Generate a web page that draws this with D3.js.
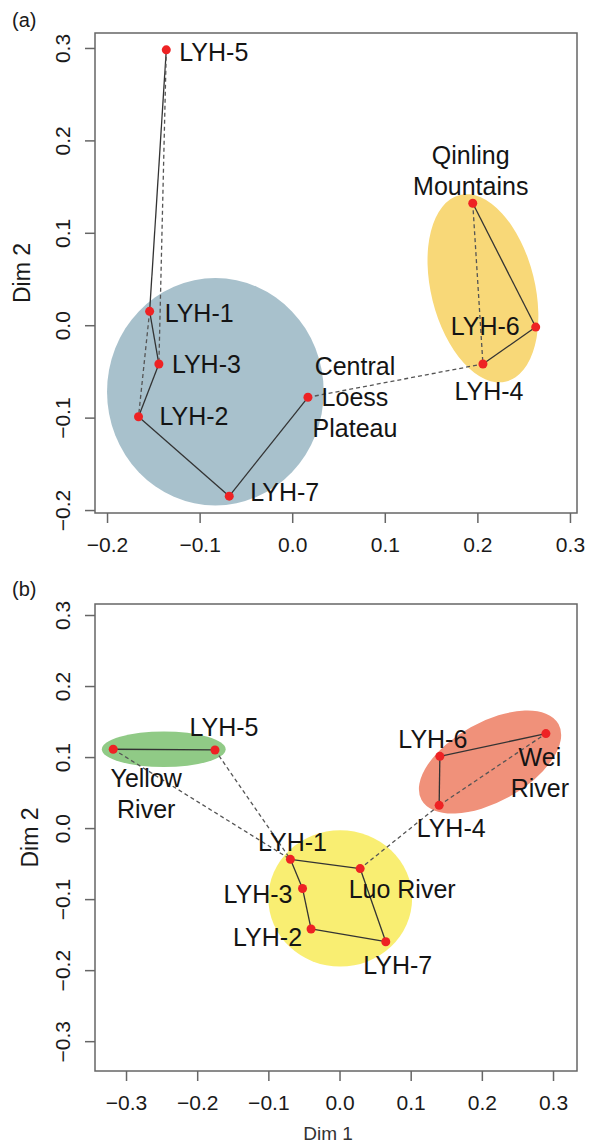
<!DOCTYPE html>
<html>
<head>
<meta charset="utf-8">
<script src="https://cdn.jsdelivr.net/npm/d3@7"></script>
<style>
  body { margin: 0; background: #fff; }
  svg { font-family: "Liberation Sans", Arial, sans-serif; }
</style>
</head>
<body>
<script>
// ---- panel (a) data ----
var namesA = ["LYH-1", "LYH-2", "LYH-3", "LYH-4", "LYH-5", "LYH-6", "LYH-7", "Central Loess Plateau", "Qinling Mountains"];
var dim1A = [-0.154, -0.166, -0.144, 0.206, -0.136, 0.263, -0.068, 0.017, 0.195];
var dim2A = [0.015, -0.099, -0.042, -0.042, 0.298, -0.002, -0.185, -0.078, 0.132];
var solidA = [["LYH-5", "LYH-1"], ["LYH-1", "LYH-3"], ["LYH-3", "LYH-2"], ["LYH-2", "LYH-7"], ["LYH-7", "Central Loess Plateau"],
              ["Qinling Mountains", "LYH-6"], ["LYH-6", "LYH-4"]];
var dashedA = [["LYH-5", "LYH-3"], ["LYH-1", "LYH-2"], ["Central Loess Plateau", "LYH-4"], ["Qinling Mountains", "LYH-4"]];
// group ellipses: centre, radii in Dim units, tilt in degrees
var groupsA = [
  { cx: -0.083, cy: -0.072, rx: 0.117, ry: 0.123, tilt: 0 },
  { cx: 0.206, cy: 0.040, rx: 0.056, ry: 0.104, tilt: -14 }
];
var ticksXA = [-0.2, -0.1, 0.0, 0.1, 0.2, 0.3];
var ticksYA = [-0.2, -0.1, 0.0, 0.1, 0.2, 0.3];

// ---- panel (b) data ----
var namesB = ["LYH-1", "LYH-2", "LYH-3", "LYH-4", "LYH-5", "LYH-6", "LYH-7", "Yellow River", "Wei River", "Luo River"];
var dim1B = [-0.069, -0.040, -0.052, 0.140, -0.175, 0.141, 0.065, -0.318, 0.290, 0.029];
var dim2B = [-0.044, -0.142, -0.085, 0.032, 0.110, 0.101, -0.160, 0.111, 0.133, -0.057];
var solidB = [["Yellow River", "LYH-5"], ["LYH-6", "Wei River"], ["LYH-6", "LYH-4"], ["LYH-1", "Luo River"], ["LYH-1", "LYH-3"],
              ["LYH-3", "LYH-2"], ["LYH-2", "LYH-7"], ["Luo River", "LYH-7"]];
var dashedB = [["Yellow River", "LYH-1"], ["LYH-5", "LYH-1"], ["LYH-4", "Luo River"], ["LYH-4", "Wei River"]];
var groupsB = [
  { cx: -0.247, cy: 0.111, rx: 0.087, ry: 0.025, tilt: 0 },
  { cx: 0.2115, cy: 0.093, rx: 0.110, ry: 0.056, tilt: -29 },
  { cx: 0.001, cy: -0.099, rx: 0.101, ry: 0.096, tilt: 0 }
];
var ticksXB = [-0.3, -0.2, -0.1, 0.0, 0.1, 0.2, 0.3];
var ticksYB = [-0.3, -0.2, -0.1, 0.0, 0.1, 0.2, 0.3];

// ---- styling / label placement (pixels, relative to point) ----
var groupColA = ["#a8c1cc", "#f8d878"];
var groupColB = ["#90ca86", "#f0917a", "#f9ee72"];
var labelsA = {
  "LYH-5": ["start", 13, 2], "LYH-1": ["start", 15, 2], "LYH-3": ["start", 13, 0], "LYH-2": ["start", 21, 0],
  "LYH-7": ["start", 21, -4], "Central Loess Plateau": ["middle", 47, -31, ["Central", "Loess", "Plateau"]],
  "Qinling Mountains": ["middle", -2, -48, ["Qinling", "Mountains"]], "LYH-6": ["end", -16, -1], "LYH-4": ["middle", 6, 27]
};
var labelsB = {
  "LYH-5": ["middle", 9, -23], "Yellow River": ["middle", 33, 29, ["Yellow", "River"]], "LYH-6": ["middle", -7, -17],
  "Wei River": ["middle", -6, 24, ["Wei", "River"]], "LYH-4": ["middle", 12, 23], "LYH-1": ["middle", 2, -17],
  "LYH-3": ["end", -10, 6], "LYH-2": ["end", -9, 8], "LYH-7": ["middle", 12, 24], "Luo River": ["middle", 42, 21]
};

var svg = d3.select("body").append("svg").attr("width", 590).attr("height", 1144);

function drawPanel(p) {
  var x = d3.scaleLinear().domain(p.xdom).range([p.box.left, p.box.right]);
  var y = d3.scaleLinear().domain(p.ydom).range([p.box.bottom, p.box.top]);
  var g = svg.append("g");
  var pos = {};
  p.names.forEach(function(n, i) { pos[n] = [x(p.d1[i]), y(p.d2[i])]; });

  // ellipses
  g.selectAll(".grp").data(p.groups).enter().append("ellipse")
    .attr("cx", function(d) { return x(d.cx); })
    .attr("cy", function(d) { return y(d.cy); })
    .attr("rx", function(d) { return x(d.cx + d.rx) - x(d.cx); })
    .attr("ry", function(d) { return y(d.cy) - y(d.cy + d.ry); })
    .attr("transform", function(d) { return "rotate(" + d.tilt + "," + x(d.cx) + "," + y(d.cy) + ")"; })
    .attr("fill", function(d, i) { return p.cols[i]; });

  // links
  g.selectAll(".solid").data(p.solid).enter().append("line")
    .attr("x1", function(d) { return pos[d[0]][0]; }).attr("y1", function(d) { return pos[d[0]][1]; })
    .attr("x2", function(d) { return pos[d[1]][0]; }).attr("y2", function(d) { return pos[d[1]][1]; })
    .attr("stroke", "#333").attr("stroke-width", 1.3);
  g.selectAll(".dashed").data(p.dashed).enter().append("line")
    .attr("x1", function(d) { return pos[d[0]][0]; }).attr("y1", function(d) { return pos[d[0]][1]; })
    .attr("x2", function(d) { return pos[d[1]][0]; }).attr("y2", function(d) { return pos[d[1]][1]; })
    .attr("stroke", "#555").attr("stroke-width", 1.3).attr("stroke-dasharray", "4,3");

  // points
  g.selectAll(".pt").data(p.names).enter().append("circle")
    .attr("cx", function(d) { return pos[d][0]; }).attr("cy", function(d) { return pos[d][1]; })
    .attr("r", 4.5).attr("fill", "#ee2224");

  // labels
  p.names.forEach(function(n) {
    var L = p.labels[n];
    var lines = L[3] || [n];
    var t = g.append("text").attr("text-anchor", L[0]).attr("font-size", 25).attr("fill", "#141414");
    lines.forEach(function(s, k) {
      t.append("tspan").attr("x", pos[n][0] + L[1]).attr("y", pos[n][1] + L[2] + k * 31)
        .attr("dy", "0.35em").text(s);
    });
  });

  // box
  g.append("rect").attr("x", p.box.left).attr("y", p.box.top)
    .attr("width", p.box.right - p.box.left).attr("height", p.box.bottom - p.box.top)
    .attr("fill", "none").attr("stroke", "#666").attr("stroke-width", 1.5);

  // axes
  var ax = g.append("g").attr("transform", "translate(0," + p.box.bottom + ")")
    .call(d3.axisBottom(x).tickValues(p.tx).tickFormat(d3.format(".1f")).tickSize(10).tickSizeOuter(0));
  var ay = g.append("g").attr("transform", "translate(" + p.box.left + ",0)")
    .call(d3.axisLeft(y).tickValues(p.ty).tickFormat(d3.format(".1f")).tickSize(10).tickSizeOuter(0));
  [ax, ay].forEach(function(a) {
    a.select(".domain").remove();
    a.selectAll(".tick line").attr("stroke", "#666").attr("stroke-width", 1.5);
    a.selectAll(".tick text").attr("font-size", 21).attr("fill", "#1a1a1a")
      .attr("font-family", "Liberation Sans, Arial, sans-serif");
  });
  ax.selectAll(".tick text").attr("y", 32).attr("dy", "0.35em");
  ay.selectAll(".tick text").attr("x", null).attr("dy", null)
    .attr("text-anchor", "middle").attr("transform", "translate(-32,0) rotate(-90)").attr("dy", "0.35em");

  // titles
  g.append("text").attr("x", 12).attr("y", p.tag[1]).attr("dy", "0.35em").attr("font-size", 20)
    .attr("fill", "#1a1a1a").text(p.tag[0]);
  g.append("text").attr("text-anchor", "middle").attr("font-size", 23).attr("fill", "#1a1a1a")
    .attr("transform", "translate(" + p.ylabX + "," + (p.box.top + p.box.bottom) / 2 + ") rotate(-90)")
    .attr("dy", "0.35em").text("Dim 2");
  if (p.xlab) {
    g.append("text").attr("text-anchor", "middle").attr("font-size", 19).attr("fill", "#333")
      .attr("x", (p.box.left + p.box.right) / 2 - 8).attr("y", 1133).attr("dy", "0.35em").text("Dim 1");
  }
}

drawPanel({
  names: namesA, d1: dim1A, d2: dim2A, solid: solidA, dashed: dashedA, groups: groupsA, cols: groupColA,
  labels: labelsA, tx: ticksXA, ty: ticksYA,
  box: { left: 95, right: 577, top: 33, bottom: 513 },
  xdom: [-0.2130, 0.3076], ydom: [-0.2032, 0.3162], tag: ["(a)", 20], ylabX: 22, xlab: false
});
drawPanel({
  names: namesB, d1: dim1B, d2: dim2B, solid: solidB, dashed: dashedB, groups: groupsB, cols: groupColB,
  labels: labelsB, tx: ticksXB, ty: ticksYB,
  box: { left: 95, right: 577, top: 604, bottom: 1071 },
  xdom: [-0.3436, 0.3337], ydom: [-0.342, 0.3155], tag: ["(b)", 589], ylabX: 30, xlab: true
});
</script>
</body>
</html>
